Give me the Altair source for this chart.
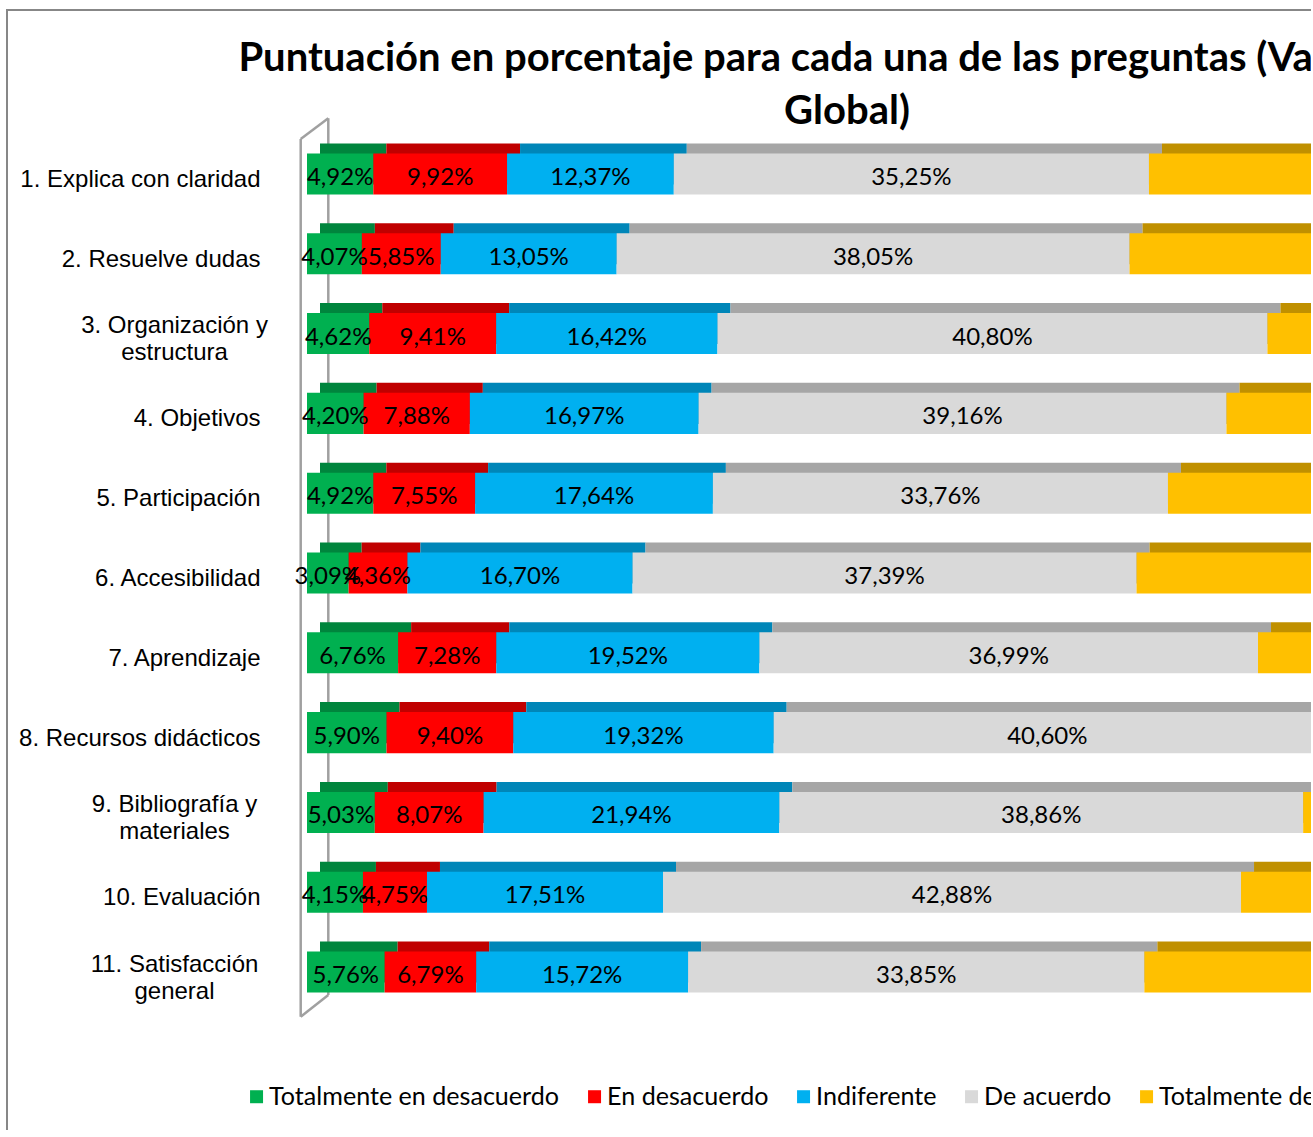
import altair as alt
import pandas as pd

# ---------------- data ----------------
questions = [
    "1. Explica con claridad",
    "2. Resuelve dudas",
    "3. Organización y|estructura",
    "4. Objetivos",
    "5. Participación",
    "6. Accesibilidad",
    "7. Aprendizaje",
    "8. Recursos didácticos",
    "9. Bibliografía y|materiales",
    "10. Evaluación",
    "11. Satisfacción|general",
]
categories = [
    "Totalmente en desacuerdo",
    "En desacuerdo",
    "Indiferente",
    "De acuerdo",
    "Totalmente de acuerdo",
]
totalmente_desacuerdo = [4.92, 4.07, 4.62, 4.20, 4.92, 3.09, 6.76, 5.90, 5.03, 4.15, 5.76]
en_desacuerdo = [9.92, 5.85, 9.41, 7.88, 7.55, 4.36, 7.28, 9.40, 8.07, 4.75, 6.79]
indiferente = [12.37, 13.05, 16.42, 16.97, 17.64, 16.70, 19.52, 19.32, 21.94, 17.51, 15.72]
de_acuerdo = [35.25, 38.05, 40.80, 39.16, 33.76, 37.39, 36.99, 40.60, 38.86, 42.88, 33.85]
totalmente_acuerdo = [37.54, 38.98, 28.75, 31.79, 36.13, 38.46, 29.45, 24.78, 26.10, 30.71, 37.88]

series = [totalmente_desacuerdo, en_desacuerdo, indiferente, de_acuerdo, totalmente_acuerdo]

colors = ["#00B050", "#FF0000", "#00B0F0", "#D9D9D9", "#FFC000"]
dark_colors = ["#00853D", "#C00000", "#0086B8", "#A6A6A6", "#C09000"]

rows = []
for i, q in enumerate(questions):
    for j, (c, vals) in enumerate(zip(categories, series)):
        rows.append({"pregunta": q, "respuesta": c, "orden": j, "valor": vals[i]})
df = pd.DataFrame(rows)
one = pd.DataFrame({"k": [0]})

# ---------------- layout ----------------
PX_PER_PCT = 13.48
PLOT_W = 1004
PLOT_H = 878
PAD_L, PAD_T, PAD_R, PAD_B = 307, 134, 0, 118
X_MAX = PLOT_W / PX_PER_PCT

x_scale = alt.Scale(domain=[0, X_MAX], nice=False, zero=True)

multi = "indexof(datum.value, '|') >= 0"
y_enc = alt.Y(
    "pregunta:N",
    sort=questions,
    scale=alt.Scale(paddingInner=0.486, paddingOuter=0.243),
    axis=alt.Axis(
        title=None,
        domain=False,
        ticks=False,
        tickSize=0,
        grid=False,
        labelFont="Liberation Sans",
        labelFontSize=24,
        labelColor="black",
        labelLimit=500,
        labelExpr="split(datum.label, '|')",
        labelLineHeight=27,
        labelBaseline="middle",
        labelOffset={"condition": {"test": multi, "value": -7.5}, "value": 6},
        labelAlign={"condition": {"test": multi, "value": "center"}, "value": "right"},
        labelPadding={"condition": {"test": multi, "value": 133}, "value": 47},
    ),
)

base = (
    alt.Chart(df)
    .transform_stack(
        stack="valor",
        groupby=["pregunta"],
        as_=["v0", "v1"],
        sort=[alt.SortField("orden", order="ascending")],
    )
    .transform_calculate(
        mid="(datum.v0 + datum.v1) / 2",
        etiqueta="replace(format(datum.valor, '.2f'), '.', ',') + '%'",
    )
)

# outer chart border
border = alt.Chart(one).mark_rect(filled=False, stroke="#878787", strokeWidth=2).encode(
    x=alt.value(7 - PAD_L), x2=alt.value(1400),
    y=alt.value(10 - PAD_T), y2=alt.value(1200),
)

# 3D back wall
wall_color = "#A0A0A0"
wl, wr = 300.7 - PAD_L, 328.3 - PAD_L
wl_top, wl_bot = 139 - PAD_T, 1016.7 - PAD_T
wr_top, wr_bot = 118.3 - PAD_T, 995 - PAD_T
wall = [
    alt.Chart(one).mark_rule(color=wall_color, strokeWidth=2.5).encode(
        x=alt.value(wl), x2=alt.value(wl), y=alt.value(wl_top), y2=alt.value(wl_bot)),
    alt.Chart(one).mark_rule(color=wall_color, strokeWidth=2.5).encode(
        x=alt.value(wr), x2=alt.value(wr), y=alt.value(wr_top), y2=alt.value(wr_bot)),
    alt.Chart(one).mark_rule(color=wall_color, strokeWidth=2.5).encode(
        x=alt.value(wl), x2=alt.value(wr), y=alt.value(wl_top), y2=alt.value(wr_top)),
    alt.Chart(one).mark_rule(color=wall_color, strokeWidth=2.5).encode(
        x=alt.value(wl), x2=alt.value(wr), y=alt.value(wl_bot), y2=alt.value(wr_bot)),
]

# top faces of the 3D bars
top_faces = base.mark_bar(clip=True, xOffset=13, x2Offset=13, yOffset=-10, y2Offset=-10).encode(
    x=alt.X("v0:Q", scale=x_scale, axis=None),
    x2="v1:Q",
    y=y_enc,
    color=alt.Color("respuesta:N", scale=alt.Scale(domain=categories, range=dark_colors), legend=None),
)

front = base.mark_bar(clip=True).encode(
    x=alt.X("v0:Q", scale=x_scale, axis=None),
    x2="v1:Q",
    y=y_enc,
    color=alt.Color(
        "respuesta:N",
        scale=alt.Scale(domain=categories, range=colors),
        legend=alt.Legend(
            orient="none",
            legendX=-63,
            legendY=950,
            direction="horizontal",
            title=None,
            symbolType="square",
            symbolSize=169,
            symbolStrokeWidth=0,
            labelFont="Lato",
            labelFontSize=25.1,
            labelColor="black",
            labelOffset=0,
            columnPadding=22,
            labelLimit=600,
            padding=0,
        ),
    ),
)

labels = base.mark_text(font="Lato", fontSize=24, color="black", baseline="middle", dy=4).encode(
    x=alt.X("mid:Q", scale=x_scale, axis=None),
    y=y_enc,
    text="etiqueta:N",
)

title = alt.Chart(one).mark_text(
    text=["Puntuación en porcentaje para cada una de las preguntas (Valoración", "Global)"],
    font="Lato",
    fontSize=40,
    fontWeight="bold",
    align="center",
    baseline="alphabetic",
    lineHeight=53,
    color="black",
).encode(x=alt.value(847 - PAD_L), y=alt.value(71 - PAD_T))

chart = (
    alt.layer(border, *wall, top_faces, front, labels, title)
    .resolve_scale(color="independent")
    .properties(
        width=PLOT_W,
        height=PLOT_H,
        padding={"left": PAD_L, "top": PAD_T, "right": PAD_R, "bottom": PAD_B},
        autosize=alt.AutoSizeParams(type="none"),
        background="white",
    )
    .configure_view(strokeWidth=0)
)

chart.save("out.html", embed_options={"renderer": "svg", "actions": False})
